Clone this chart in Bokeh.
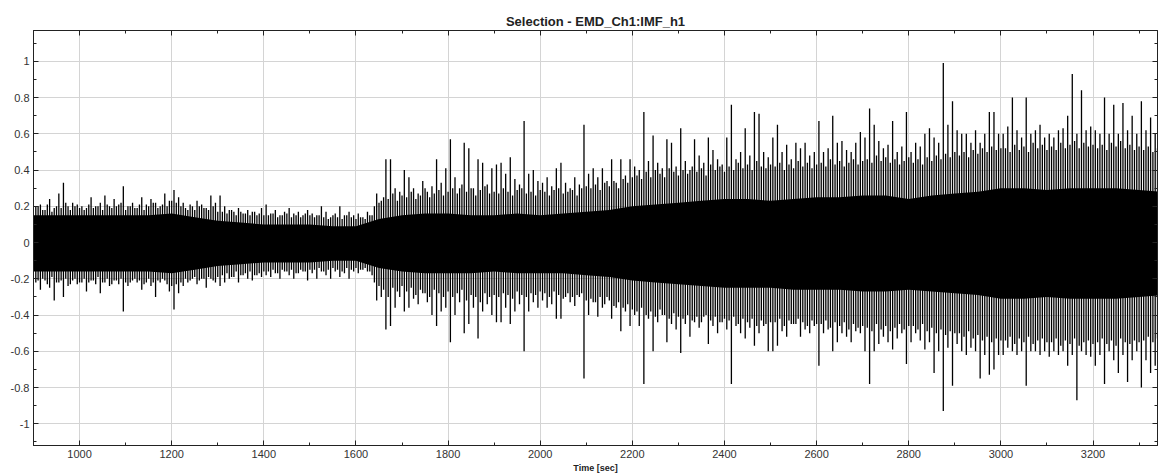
from bokeh.plotting import figure
from bokeh.models import ColumnDataSource, Range1d, FixedTicker, LinearAxis, Title
from bokeh.embed import file_html
from bokeh.resources import INLINE

# ---- data ----
title_text = "Selection - EMD_Ch1:IMF_h1"
x_label = "Time [sec]"
x_ticks = [1000, 1200, 1400, 1600, 1800, 2000, 2200, 2400, 2600, 2800, 3000, 3200]
x_tick_labels = ["1000", "1200", "1400", "1600", "1800", "2000", "2200", "2400", "2600", "2800", "3000", "3200"]
y_ticks = [-1.0, -0.8, -0.6, -0.4, -0.2, 0.0, 0.2, 0.4, 0.6, 0.8, 1.0]
y_tick_labels = ["-1", "-0.8", "-0.6", "-0.4", "-0.2", "0", "0.2", "0.4", "0.6", "0.8", "1"]

# dense core of the signal (50 s grid)
core_t = [900, 950, 1000, 1050, 1100, 1150, 1200, 1250, 1300, 1350, 1400, 1450, 1500, 1550,
          1600, 1650, 1700, 1750, 1800, 1850, 1900, 1950, 2000, 2050, 2100, 2150, 2200, 2250,
          2300, 2350, 2400, 2450, 2500, 2550, 2600, 2650, 2700, 2750, 2800, 2850, 2900, 2950,
          3000, 3050, 3100, 3150, 3200, 3250, 3300, 3350]
core_hi = [0.15, 0.15, 0.15, 0.15, 0.15, 0.15, 0.16, 0.14, 0.12, 0.11, 0.10, 0.10, 0.10, 0.09,
           0.09, 0.13, 0.15, 0.16, 0.16, 0.15, 0.15, 0.16, 0.15, 0.16, 0.17, 0.18, 0.20, 0.21,
           0.22, 0.23, 0.24, 0.24, 0.23, 0.24, 0.25, 0.25, 0.26, 0.26, 0.24, 0.26, 0.27, 0.28,
           0.30, 0.30, 0.29, 0.30, 0.30, 0.30, 0.29, 0.28]
core_lo = [-0.16, -0.16, -0.16, -0.16, -0.16, -0.16, -0.17, -0.15, -0.13, -0.12, -0.11, -0.11, -0.11, -0.10,
           -0.10, -0.14, -0.16, -0.17, -0.17, -0.17, -0.16, -0.17, -0.17, -0.17, -0.18, -0.19, -0.21, -0.22,
           -0.23, -0.24, -0.25, -0.25, -0.25, -0.26, -0.26, -0.26, -0.27, -0.27, -0.26, -0.27, -0.28, -0.29,
           -0.31, -0.31, -0.30, -0.31, -0.31, -0.31, -0.30, -0.29]

# spike extremes per 10 s bin, starting at 905 s
spike_start = 905
spike_step = 10
spike_hi = [
    0.20, 0.21, 0.18, 0.24, 0.19, 0.27, 0.33, 0.20, 0.22, 0.21,
    0.20, 0.19, 0.25, 0.20, 0.22, 0.26, 0.20, 0.24, 0.21, 0.31,
    0.20, 0.22, 0.19, 0.25, 0.21, 0.24, 0.22, 0.20, 0.27, 0.23,
    0.29, 0.25, 0.22, 0.18, 0.20, 0.23, 0.21, 0.19, 0.26, 0.22,
    0.26, 0.20, 0.18, 0.17, 0.19, 0.16, 0.18, 0.17, 0.15, 0.19,
    0.21, 0.16, 0.18, 0.15, 0.17, 0.19, 0.16, 0.17, 0.15, 0.18,
    0.16, 0.15, 0.20, 0.17, 0.14, 0.16, 0.20, 0.15, 0.17, 0.15,
    0.16, 0.14, 0.17, 0.15, 0.27, 0.23, 0.46, 0.46, 0.30, 0.28,
    0.40, 0.36, 0.30, 0.27, 0.34, 0.28, 0.31, 0.46, 0.33, 0.41,
    0.57, 0.36, 0.30, 0.55, 0.52, 0.30, 0.46, 0.44, 0.32, 0.41,
    0.43, 0.44, 0.38, 0.47, 0.35, 0.32, 0.67, 0.38, 0.40, 0.34,
    0.33, 0.36, 0.31, 0.41, 0.44, 0.33, 0.30, 0.36, 0.32, 0.65,
    0.38, 0.41, 0.36, 0.41, 0.34, 0.46, 0.33, 0.46, 0.37, 0.46,
    0.42, 0.40, 0.72, 0.45, 0.59, 0.44, 0.41, 0.57, 0.55, 0.42,
    0.63, 0.45, 0.40, 0.57, 0.48, 0.44, 0.58, 0.51, 0.46, 0.43,
    0.58, 0.76, 0.46, 0.50, 0.63, 0.48, 0.72, 0.71, 0.50, 0.47,
    0.58, 0.65, 0.50, 0.54, 0.46, 0.55, 0.52, 0.55, 0.48, 0.50,
    0.67, 0.50, 0.52, 0.70, 0.55, 0.56, 0.51, 0.50, 0.55, 0.61,
    0.58, 0.74, 0.65, 0.56, 0.52, 0.54, 0.67, 0.50, 0.53, 0.72,
    0.50, 0.55, 0.53, 0.60, 0.63, 0.58, 0.55, 0.99, 0.65, 0.78,
    0.62, 0.60, 0.60, 0.55, 0.62, 0.55, 0.60, 0.72, 0.72, 0.60,
    0.60, 0.64, 0.80, 0.62, 0.58, 0.80, 0.60, 0.62, 0.65, 0.58,
    0.60, 0.58, 0.62, 0.63, 0.70, 0.93, 0.60, 0.84, 0.62, 0.64,
    0.62, 0.60, 0.80, 0.60, 0.76, 0.60, 0.77, 0.62, 0.70, 0.60,
    0.78, 0.62, 0.69, 0.60,
]
spike_lo = [
    -0.22, -0.26, -0.21, -0.25, -0.32, -0.22, -0.30, -0.24, -0.21, -0.23,
    -0.22, -0.27, -0.21, -0.23, -0.28, -0.22, -0.24, -0.21, -0.23, -0.38,
    -0.24, -0.21, -0.22, -0.26, -0.22, -0.24, -0.30, -0.22, -0.21, -0.27,
    -0.37, -0.28, -0.24, -0.22, -0.20, -0.23, -0.20, -0.25, -0.20, -0.22,
    -0.24, -0.22, -0.20, -0.19, -0.22, -0.18, -0.20, -0.21, -0.18, -0.19,
    -0.18, -0.19, -0.17, -0.20, -0.16, -0.18, -0.20, -0.17, -0.16, -0.21,
    -0.17, -0.20, -0.16, -0.18, -0.20, -0.16, -0.19, -0.17, -0.20, -0.16,
    -0.17, -0.15, -0.16, -0.18, -0.32, -0.30, -0.48, -0.46, -0.36, -0.30,
    -0.38, -0.36, -0.31, -0.34, -0.28, -0.33, -0.40, -0.46, -0.38, -0.36,
    -0.55, -0.40, -0.33, -0.50, -0.45, -0.36, -0.53, -0.38, -0.34, -0.40,
    -0.44, -0.44, -0.36, -0.45, -0.38, -0.34, -0.60, -0.38, -0.33, -0.36,
    -0.32, -0.36, -0.34, -0.42, -0.42, -0.30, -0.33, -0.35, -0.30, -0.75,
    -0.40, -0.33, -0.41, -0.36, -0.30, -0.42, -0.36, -0.49, -0.38, -0.46,
    -0.40, -0.46, -0.78, -0.42, -0.60, -0.44, -0.40, -0.55, -0.45, -0.48,
    -0.61, -0.45, -0.52, -0.44, -0.47, -0.41, -0.56, -0.46, -0.50, -0.44,
    -0.48, -0.78, -0.46, -0.50, -0.53, -0.47, -0.57, -0.50, -0.46, -0.60,
    -0.60, -0.57, -0.49, -0.52, -0.45, -0.45, -0.52, -0.48, -0.50, -0.46,
    -0.68, -0.50, -0.48, -0.60, -0.55, -0.50, -0.52, -0.55, -0.49, -0.50,
    -0.60, -0.78, -0.60, -0.56, -0.52, -0.55, -0.59, -0.53, -0.50, -0.67,
    -0.55, -0.50, -0.54, -0.59, -0.55, -0.72, -0.60, -0.93, -0.58, -0.79,
    -0.56, -0.60, -0.62, -0.58, -0.60, -0.75, -0.62, -0.73, -0.70, -0.62,
    -0.62, -0.58, -0.60, -0.62, -0.60, -0.79, -0.60, -0.60, -0.62, -0.60,
    -0.63, -0.60, -0.62, -0.60, -0.68, -0.62, -0.87, -0.60, -0.62, -0.63,
    -0.68, -0.62, -0.78, -0.60, -0.65, -0.72, -0.62, -0.77, -0.65, -0.60,
    -0.80, -0.65, -0.72, -0.68,
]

# in-between oscillations per 10 s bin, starting at 910 s
mid_start = 910
mid_step = 10
mid_hi = [
    0.20, 0.18, 0.21, 0.17, 0.20, 0.19, 0.22, 0.18, 0.20, 0.19,
    0.18, 0.21, 0.19, 0.20, 0.18, 0.21, 0.19, 0.20, 0.22, 0.18,
    0.20, 0.19, 0.21, 0.18, 0.20, 0.22, 0.19, 0.21, 0.20, 0.23,
    0.22, 0.20, 0.19, 0.21, 0.18, 0.20, 0.19, 0.18, 0.20, 0.17,
    0.17, 0.16, 0.18, 0.15, 0.17, 0.16, 0.15, 0.17, 0.16, 0.15,
    0.15, 0.16, 0.14, 0.15, 0.16, 0.14, 0.15, 0.14, 0.16, 0.15,
    0.14, 0.15, 0.14, 0.13, 0.15, 0.14, 0.13, 0.15, 0.14, 0.13,
    0.14, 0.13, 0.15, 0.20, 0.22, 0.25, 0.24, 0.27, 0.23, 0.26,
    0.25, 0.28, 0.24, 0.26, 0.30, 0.25, 0.27, 0.29, 0.26, 0.28,
    0.30, 0.27, 0.32, 0.28, 0.30, 0.26, 0.29, 0.31, 0.27, 0.28,
    0.27, 0.30, 0.28, 0.26, 0.29, 0.30, 0.27, 0.28, 0.26, 0.29,
    0.28, 0.26, 0.29, 0.30, 0.27, 0.28, 0.29, 0.26, 0.30, 0.31,
    0.30, 0.32, 0.29, 0.33, 0.31, 0.34, 0.30, 0.35, 0.33, 0.36,
    0.37, 0.35, 0.39, 0.36, 0.40, 0.38, 0.36, 0.41, 0.39, 0.37,
    0.40, 0.38, 0.42, 0.39, 0.41, 0.37, 0.43, 0.40, 0.42, 0.39,
    0.42, 0.40, 0.44, 0.41, 0.43, 0.40, 0.45, 0.42, 0.41, 0.43,
    0.42, 0.44, 0.40, 0.43, 0.41, 0.45, 0.42, 0.44, 0.41, 0.43,
    0.44, 0.42, 0.46, 0.43, 0.45, 0.42, 0.44, 0.46, 0.43, 0.45,
    0.46, 0.44, 0.48, 0.45, 0.47, 0.44, 0.46, 0.43, 0.45, 0.47,
    0.44, 0.46, 0.43, 0.47, 0.45, 0.48, 0.46, 0.49, 0.47, 0.50,
    0.48, 0.50, 0.47, 0.51, 0.49, 0.52, 0.50, 0.53, 0.51, 0.52,
    0.52, 0.50, 0.54, 0.51, 0.53, 0.50, 0.55, 0.52, 0.54, 0.51,
    0.53, 0.51, 0.55, 0.52, 0.54, 0.56, 0.52, 0.55, 0.53, 0.54,
    0.52, 0.54, 0.51, 0.55, 0.53, 0.56, 0.52, 0.54, 0.51, 0.53,
    0.51, 0.53, 0.50, 0.52,
]
mid_lo = [
    -0.21, -0.20, -0.23, -0.19, -0.22, -0.21, -0.20, -0.23, -0.20, -0.22,
    -0.20, -0.22, -0.21, -0.19, -0.22, -0.20, -0.23, -0.21, -0.20, -0.22,
    -0.22, -0.20, -0.21, -0.23, -0.20, -0.22, -0.21, -0.20, -0.23, -0.24,
    -0.23, -0.22, -0.20, -0.21, -0.19, -0.21, -0.20, -0.19, -0.21, -0.19,
    -0.18, -0.17, -0.19, -0.16, -0.18, -0.17, -0.16, -0.18, -0.17, -0.16,
    -0.16, -0.15, -0.17, -0.15, -0.16, -0.15, -0.17, -0.15, -0.16, -0.15,
    -0.15, -0.14, -0.16, -0.15, -0.14, -0.15, -0.16, -0.14, -0.15, -0.14,
    -0.15, -0.14, -0.16, -0.22, -0.24, -0.26, -0.30, -0.25, -0.27, -0.24,
    -0.27, -0.25, -0.29, -0.26, -0.28, -0.30, -0.26, -0.28, -0.30, -0.27,
    -0.30, -0.28, -0.26, -0.32, -0.29, -0.30, -0.33, -0.28, -0.30, -0.29,
    -0.30, -0.28, -0.29, -0.31, -0.27, -0.29, -0.30, -0.28, -0.29, -0.27,
    -0.28, -0.30, -0.27, -0.29, -0.31, -0.28, -0.30, -0.29, -0.28, -0.32,
    -0.31, -0.33, -0.30, -0.34, -0.32, -0.35, -0.33, -0.36, -0.34, -0.37,
    -0.38, -0.36, -0.40, -0.38, -0.41, -0.37, -0.40, -0.42, -0.39, -0.41,
    -0.42, -0.40, -0.43, -0.41, -0.44, -0.40, -0.43, -0.41, -0.44, -0.42,
    -0.43, -0.41, -0.45, -0.42, -0.44, -0.42, -0.46, -0.43, -0.45, -0.44,
    -0.44, -0.42, -0.46, -0.43, -0.45, -0.42, -0.44, -0.46, -0.43, -0.45,
    -0.45, -0.43, -0.47, -0.44, -0.46, -0.44, -0.48, -0.45, -0.47, -0.46,
    -0.47, -0.49, -0.45, -0.48, -0.46, -0.49, -0.47, -0.45, -0.48, -0.46,
    -0.46, -0.48, -0.45, -0.49, -0.47, -0.50, -0.48, -0.51, -0.49, -0.50,
    -0.50, -0.52, -0.49, -0.53, -0.51, -0.54, -0.52, -0.55, -0.53, -0.54,
    -0.54, -0.52, -0.56, -0.53, -0.55, -0.52, -0.56, -0.54, -0.53, -0.55,
    -0.55, -0.53, -0.57, -0.54, -0.56, -0.53, -0.57, -0.55, -0.54, -0.56,
    -0.55, -0.53, -0.56, -0.54, -0.57, -0.53, -0.55, -0.56, -0.54, -0.55,
    -0.54, -0.52, -0.55, -0.53,
]

spike_t = [spike_start + spike_step * i for i in range(len(spike_hi))]
mid_t = [mid_start + mid_step * i for i in range(len(mid_hi))]

FONT = "Liberation Sans"

p = figure(width=1161, height=475, output_backend="svg", toolbar_location=None,
           x_range=Range1d(900, 3340), y_range=Range1d(-1.12, 1.17),
           min_border_left=33, min_border_right=4, min_border_top=30, min_border_bottom=30)
p.title = Title(text=title_text, align="center", text_font=FONT, text_font_size="13px",
                text_font_style="bold", text_color="#222222", standoff=4)
p.background_fill_color = "white"
p.border_fill_color = "white"
p.outline_line_color = "#222222"
p.outline_line_width = 1

core_src = ColumnDataSource(dict(t=core_t, hi=core_hi, lo=core_lo))
p.varea(x="t", y1="lo", y2="hi", source=core_src, fill_color="black")
mid_src = ColumnDataSource(dict(t=mid_t, hi=mid_hi, lo=mid_lo))
p.segment(x0="t", y0="lo", x1="t", y1="hi", source=mid_src, line_color="black", line_width=1.3)
spk_src = ColumnDataSource(dict(t=spike_t, hi=spike_hi, lo=spike_lo))
p.segment(x0="t", y0="lo", x1="t", y1="hi", source=spk_src, line_color="black", line_width=1.3)

p.xgrid.grid_line_color = "#d4d4d4"
p.ygrid.grid_line_color = "#d4d4d4"
p.xgrid.ticker = FixedTicker(ticks=x_ticks)
p.ygrid.ticker = FixedTicker(ticks=y_ticks)

xminor = [900 + 100 * i for i in range(25)]
yminor = [round(-1.1 + 0.1 * i, 2) for i in range(23)]

def style(ax, ticks, minor, labels, show):
    ax.ticker = FixedTicker(ticks=ticks, minor_ticks=minor)
    ax.axis_line_color = "#222222"
    ax.major_tick_line_color = "#222222"
    ax.minor_tick_line_color = "#222222"
    ax.major_tick_in = 5
    ax.major_tick_out = 0
    ax.minor_tick_in = 3
    ax.minor_tick_out = 0
    if show:
        ax.major_label_overrides = {t: l for t, l in zip(ticks, labels)}
        ax.major_label_text_font = FONT
        ax.major_label_text_font_size = "11px"
        ax.major_label_text_color = "#333333"
        ax.major_label_standoff = 4
    else:
        ax.major_label_text_color = None
        ax.major_label_standoff = 0

style(p.xaxis[0], x_ticks, xminor, x_tick_labels, True)
style(p.yaxis[0], y_ticks, yminor, y_tick_labels, True)
p.xaxis[0].axis_label = x_label
p.xaxis[0].axis_label_text_font = FONT
p.xaxis[0].axis_label_text_font_size = "9px"
p.xaxis[0].axis_label_text_font_style = "bold"
p.xaxis[0].axis_label_standoff = 2
p.xaxis[0].axis_label_text_color = "#222222"

top_ax = LinearAxis()
right_ax = LinearAxis()
style(top_ax, x_ticks, xminor, x_tick_labels, False)
style(right_ax, y_ticks, yminor, y_tick_labels, False)
p.add_layout(top_ax, "above")
p.add_layout(right_ax, "right")

open("out.html", "w").write(file_html(p, INLINE))
